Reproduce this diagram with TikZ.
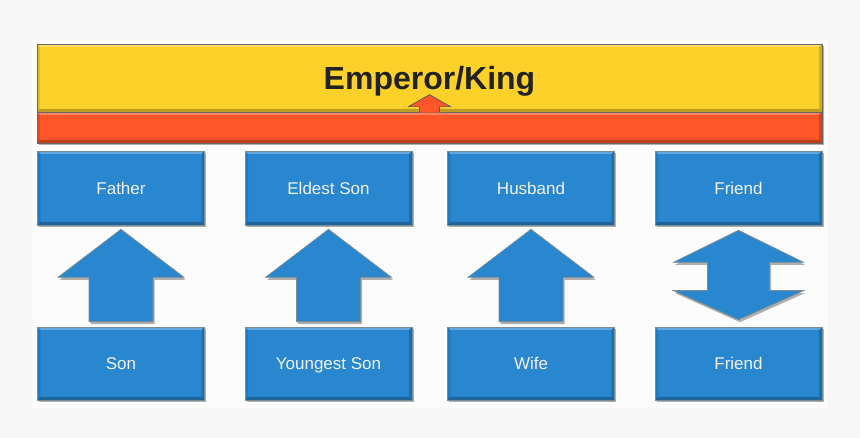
\documentclass[tikz,border=0pt]{standalone}
\usepackage{fontspec}
\setmainfont{Liberation Sans}
\usetikzlibrary{calc,shadows}
\definecolor{bgc}{RGB}{246,246,246}
\definecolor{panelc}{RGB}{252,252,252}
\definecolor{boxblue}{RGB}{40,135,207}
\definecolor{edgegray}{RGB}{120,140,150}
\definecolor{yellowc}{RGB}{252,210,42}
\definecolor{orangec}{RGB}{255,85,40}
\definecolor{darktext}{RGB}{34,34,34}
\newcommand\uparrowblock[2]{%
  \path[blockarrow] let \p1=($(#2.south)+(0,-4)$), \p2=($(#1.north)+(0,5)$) in
    (\x1,\y1) -- (\x1+63pt,\y1-48pt) -- (\x1+32pt,\y1-48pt) -- (\x1+32pt,\y2)
    -- (\x1-32pt,\y2) -- (\x1-32pt,\y1-48pt) -- (\x1-63pt,\y1-48pt) -- cycle;}
\newcommand\dblarrowblock[2]{%
  \path[blockarrow] let \p1=($(#2.south)+(0,-5)$), \p2=($(#1.north)+(0,7)$) in
    (\x1,\y1) -- (\x1+65pt,\y1-32pt) -- (\x1+31pt,\y1-32pt) -- (\x1+31pt,\y2+29pt)
    -- (\x1+65pt,\y2+29pt) -- (\x1,\y2) -- (\x1-65pt,\y2+29pt) -- (\x1-31pt,\y2+29pt)
    -- (\x1-31pt,\y1-32pt) -- (\x1-65pt,\y1-32pt) -- cycle;}
\begin{document}
\begin{tikzpicture}[x=1pt,y=1pt,
  bevel/.style={path picture={
    \fill[white,opacity=0.28] (path picture bounding box.north west) -- (path picture bounding box.north east)
      -- ++(-3,-3) -- ($(path picture bounding box.north west)+(3,-3)$) -- cycle;
    \fill[black,opacity=0.18] (path picture bounding box.north east) -- (path picture bounding box.south east)
      -- ++(-3,3) -- ($(path picture bounding box.north east)+(-3,-3)$) -- cycle;
    \fill[black,opacity=0.25] (path picture bounding box.south east) -- (path picture bounding box.south west)
      -- ++(3,3) -- ($(path picture bounding box.south east)+(-3,3)$) -- cycle;
    \fill[black,opacity=0.10] (path picture bounding box.south west) -- (path picture bounding box.north west)
      -- ++(3,-3) -- ($(path picture bounding box.south west)+(3,3)$) -- cycle;}},
  shad/.style={drop shadow={shadow xshift=1.5pt, shadow yshift=-2.5pt, fill=black, opacity=0.3}},
  box/.style={shape=rectangle, draw=edgegray, line width=0.7pt, fill=boxblue, bevel, shad,
    minimum width=167pt, minimum height=74pt, inner sep=0pt, text height=12.4pt, text depth=0pt,
    text=white!95!black, font=\fontsize{17}{20}\selectfont},
  band/.style={shape=rectangle, draw=black!60, line width=0.7pt, bevel, shad,
    minimum width=785pt, inner sep=0pt},
  blockarrow/.style={fill=boxblue, draw=edgegray, line width=0.8pt, shad},
  smallarrow/.style={fill=orangec, draw=black!65, line width=0.7pt}]
\useasboundingbox (0,0) rectangle (860,438);
\fill[bgc] (0,0) rectangle (860,438);
\fill[panelc] (32,30) rectangle (828,398);
% bands
\node[band, fill=yellowc, minimum height=68pt, text=darktext, text height=24pt, text depth=0pt,
      font=\fontsize{32}{36}\selectfont\bfseries] (emperor) at (429.5,360) {Emperor/King};
\node[band, fill=orangec, minimum height=31pt] (base) at (429.5,310.5) {};
\filldraw[smallarrow] ($(base.north)+(-10,-1)$) -- ++(0,6) -- ++(-11,0) -- ++(21,12)
   -- ++(21,-12) -- ++(-11,0) -- ++(0,-6);
% top row
\node[box] (father) at (121,250) {Father};
\node[box] (eldest) at (328.5,250) {Eldest Son};
\node[box] (husband) at (531,250) {Husband};
\node[box] (friendA) at (738.5,250) {Friend};
% bottom row
\node[box, minimum height=73pt] (son) at (121,74.5) {Son};
\node[box, minimum height=73pt] (youngest) at (328.5,74.5) {Youngest Son};
\node[box, minimum height=73pt] (wife) at (531,74.5) {Wife};
\node[box, minimum height=73pt] (friendB) at (738.5,74.5) {Friend};
% arrows
\uparrowblock{son}{father}
\uparrowblock{youngest}{eldest}
\uparrowblock{wife}{husband}
\dblarrowblock{friendB}{friendA}
\end{tikzpicture}
\end{document}
